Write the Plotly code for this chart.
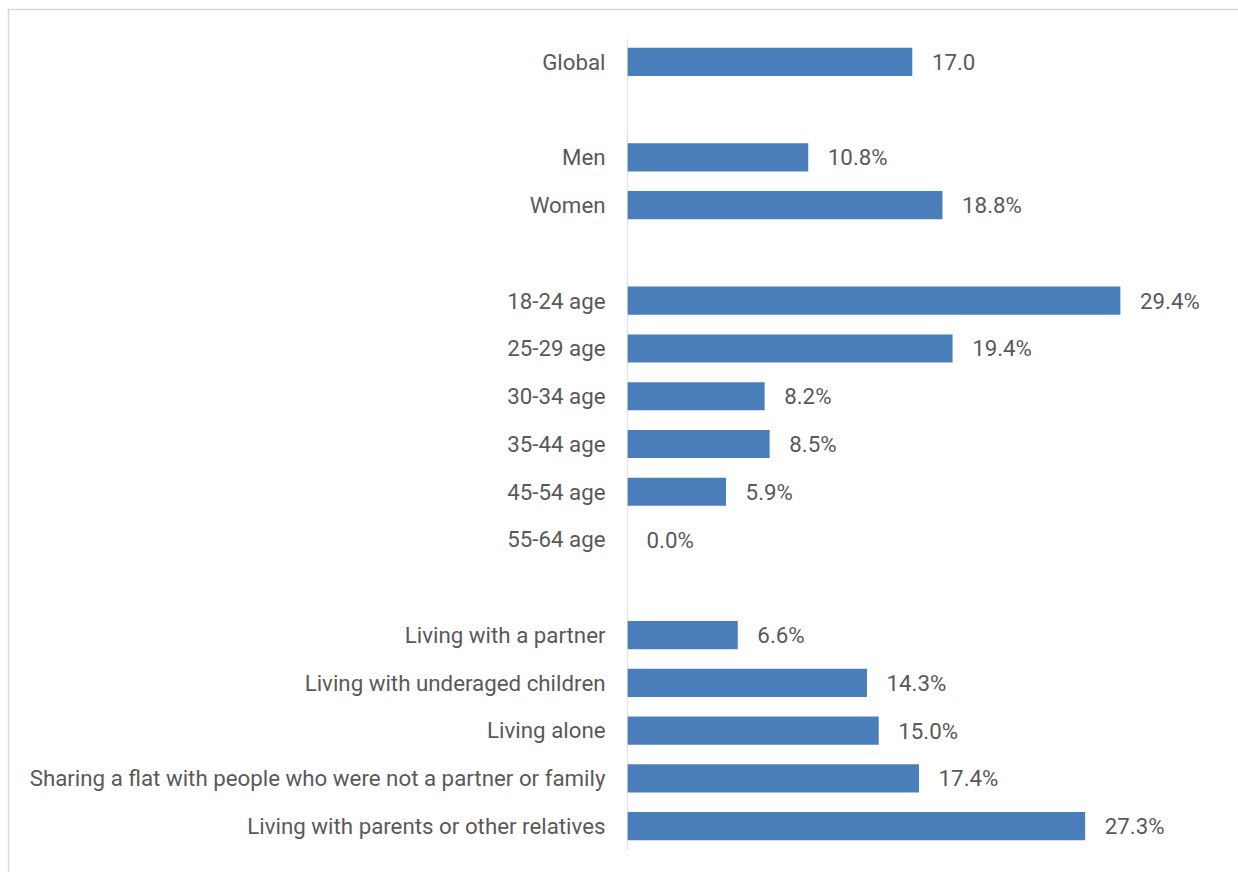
import plotly.graph_objects as go

# Share of respondents per group (%); None marks a spacer row between groups
categories = [
    "Global", " ",
    "Men", "Women", "  ",
    "18-24 age", "25-29 age", "30-34 age", "35-44 age", "45-54 age", "55-64 age", "   ",
    "Living with a partner",
    "Living with underaged children",
    "Living alone",
    "Sharing a flat with people who were not a partner or family",
    "Living with parents or other relatives",
]
values = [
    17.0, None,
    10.8, 18.8, None,
    29.4, 19.4, 8.2, 8.5, 5.9, 0.0, None,
    6.6, 14.3, 15.0, 17.4, 27.3,
]
value_labels = [
    "17.0", "",
    "10.8%", "18.8%", "",
    "29.4%", "19.4%", "8.2%", "8.5%", "5.9%", "0.0%", "",
    "6.6%", "14.3%", "15.0%", "17.4%", "27.3%",
]

W, H = 1238, 872
L, R, T, B = 627, 74, 38, 22
X_MAX = 32.0

BAR = "#4a7ebb"
TEXT = "#595959"
GRID = "#d9d9d9"
FONT = "Roboto"
FS = 22.3

fig = go.Figure(
    go.Bar(
        y=categories,
        x=values,
        orientation="h",
        marker=dict(color=BAR, line=dict(width=0)),
        width=0.59,
        text=["   " + t if t else "" for t in value_labels],
        textposition="outside",
        textfont=dict(family=FONT, size=FS, color=TEXT),
        cliponaxis=False,
        hoverinfo="skip",
    )
)

fig.update_yaxes(
    type="category",
    categoryorder="array",
    categoryarray=categories,
    autorange="reversed",
    showgrid=False,
    zeroline=False,
    showline=False,
    ticks="outside",
    ticklen=16,
    tickcolor="rgba(0,0,0,0)",
    tickfont=dict(family=FONT, size=FS, color=TEXT),
)
fig.update_xaxes(
    range=[0, X_MAX],
    showgrid=False,
    zeroline=False,
    showline=False,
    showticklabels=False,
    ticks="",
)

plot_w = W - L - R
plot_h = H - T - B


def px_x(px):
    return (px - L) / plot_w


def px_y(py):
    return (H - B - py) / plot_h


# vertical category axis line at zero
fig.add_shape(
    type="line", xref="x", yref="paper",
    x0=0, x1=0, y0=0, y1=1,
    line=dict(color=GRID, width=1.5),
)
# outer chart frame
fig.add_shape(
    type="rect", xref="paper", yref="paper",
    x0=px_x(8.5), x1=px_x(W + 10),
    y0=px_y(H + 10), y1=px_y(9.5),
    line=dict(color=GRID, width=1.5),
    fillcolor="rgba(0,0,0,0)",
    layer="below",
)

fig.update_layout(
    width=W,
    height=H,
    margin=dict(l=L, r=R, t=T, b=B, pad=0),
    paper_bgcolor="white",
    plot_bgcolor="white",
    showlegend=False,
    font=dict(family=FONT, color=TEXT),
    bargap=0.41,
)

fig.write_html("out.html")
